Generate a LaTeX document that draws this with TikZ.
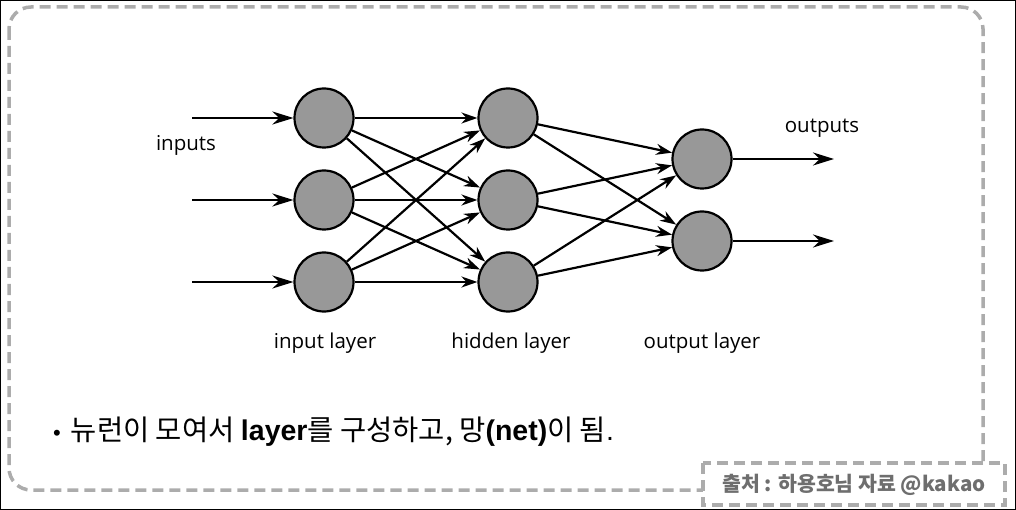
\documentclass[tikz,border=0pt]{standalone}
\usepackage{fontspec}
\setmainfont{Open Sans}
\newfontfamily\krfont{Noto Sans CJK KR}
\newfontfamily\latinfont{Liberation Sans}
\usetikzlibrary{arrows.meta}

\definecolor{neurongray}{RGB}{152,152,152}
\definecolor{framegray}{RGB}{172,172,172}
\definecolor{notegray}{RGB}{110,110,110}

\tikzset{
    neuron/.style={circle, draw, line width=2.2pt, fill=neurongray, minimum size=59pt, inner sep=0pt},
    link/.style={-{Stealth[length=16pt, width=11pt]}, line width=2.2pt},
    feed/.style={-{Stealth[length=21pt, width=13pt]}, line width=2.3pt},
    layerlabel/.style={font=\fontsize{20.5}{24}\selectfont},
    framebox/.style={draw=framegray, line width=3.5pt, dash pattern=on 11pt off 6pt},
}

\begin{document}
\begin{tikzpicture}[x=1pt, y=-1pt]
    \useasboundingbox (0,0) rectangle (1016,510);
    \draw[line width=1pt] (0.5,0.5) rectangle (1015.5,509.5);

    % slide frame
    \draw[framebox, rounded corners=22pt] (9,7) rectangle (983,490);

    % network
    \node[neuron] (i1) at (324,118) {};
    \node[neuron] (i2) at (324,200) {};
    \node[neuron] (i3) at (324,282) {};
    \node[neuron] (h1) at (508,118) {};
    \node[neuron] (h2) at (508,200) {};
    \node[neuron] (h3) at (508,282) {};
    \node[neuron] (o1) at (702,159) {};
    \node[neuron] (o2) at (702,241) {};

    \coordinate (in1) at (192,118);
    \coordinate (in2) at (192,200);
    \coordinate (in3) at (192,282);
    \coordinate (out1) at (834,159);
    \coordinate (out2) at (834,241);

    \draw[feed] (in1) -- (i1);
    \draw[feed] (in2) -- (i2);
    \draw[feed] (in3) -- (i3);

    \draw[link] (i1) -- (h1);
    \draw[link] (i1) -- (h2);
    \draw[link] (i1) -- (h3);
    \draw[link] (i2) -- (h1);
    \draw[link] (i2) -- (h2);
    \draw[link] (i2) -- (h3);
    \draw[link] (i3) -- (h1);
    \draw[link] (i3) -- (h2);
    \draw[link] (i3) -- (h3);

    \draw[link] (h1) -- (o1);
    \draw[link] (h1) -- (o2);
    \draw[link] (h2) -- (o1);
    \draw[link] (h2) -- (o2);
    \draw[link] (h3) -- (o1);
    \draw[link] (h3) -- (o2);

    \draw[feed] (o1) -- (out1);
    \draw[feed] (o2) -- (out2);

    \node[layerlabel] (inlbl) at (186,145) {inputs};
    \node[layerlabel] (outlbl) at (822,128) {outputs};
    \node[layerlabel] (ilayer) at (325,343) {input layer};
    \node[layerlabel] (hlayer) at (511,343) {hidden layer};
    \node[layerlabel] (olayer) at (702,343) {output layer};

    % caption
    \node[anchor=west, inner sep=0pt, font=\krfont\fontsize{28.5}{33}\selectfont] (caption) at (53,432)
        {{\latinfont\fontsize{22}{26}\selectfont •}\hspace{10pt}뉴런이 모여서 {\latinfont\bfseries layer}를 구성하고, 망{\latinfont\bfseries (net)}이 됨{\latinfont .}};

    % source box
    \draw[framebox, fill=white] (703,463) rectangle (1005,505);
    \node[text=notegray, font=\krfont\bfseries\fontsize{20.5}{24}\selectfont] (source) at (854,485)
        {출처 : 하용호님 자료 @kakao};
\end{tikzpicture}
\end{document}
